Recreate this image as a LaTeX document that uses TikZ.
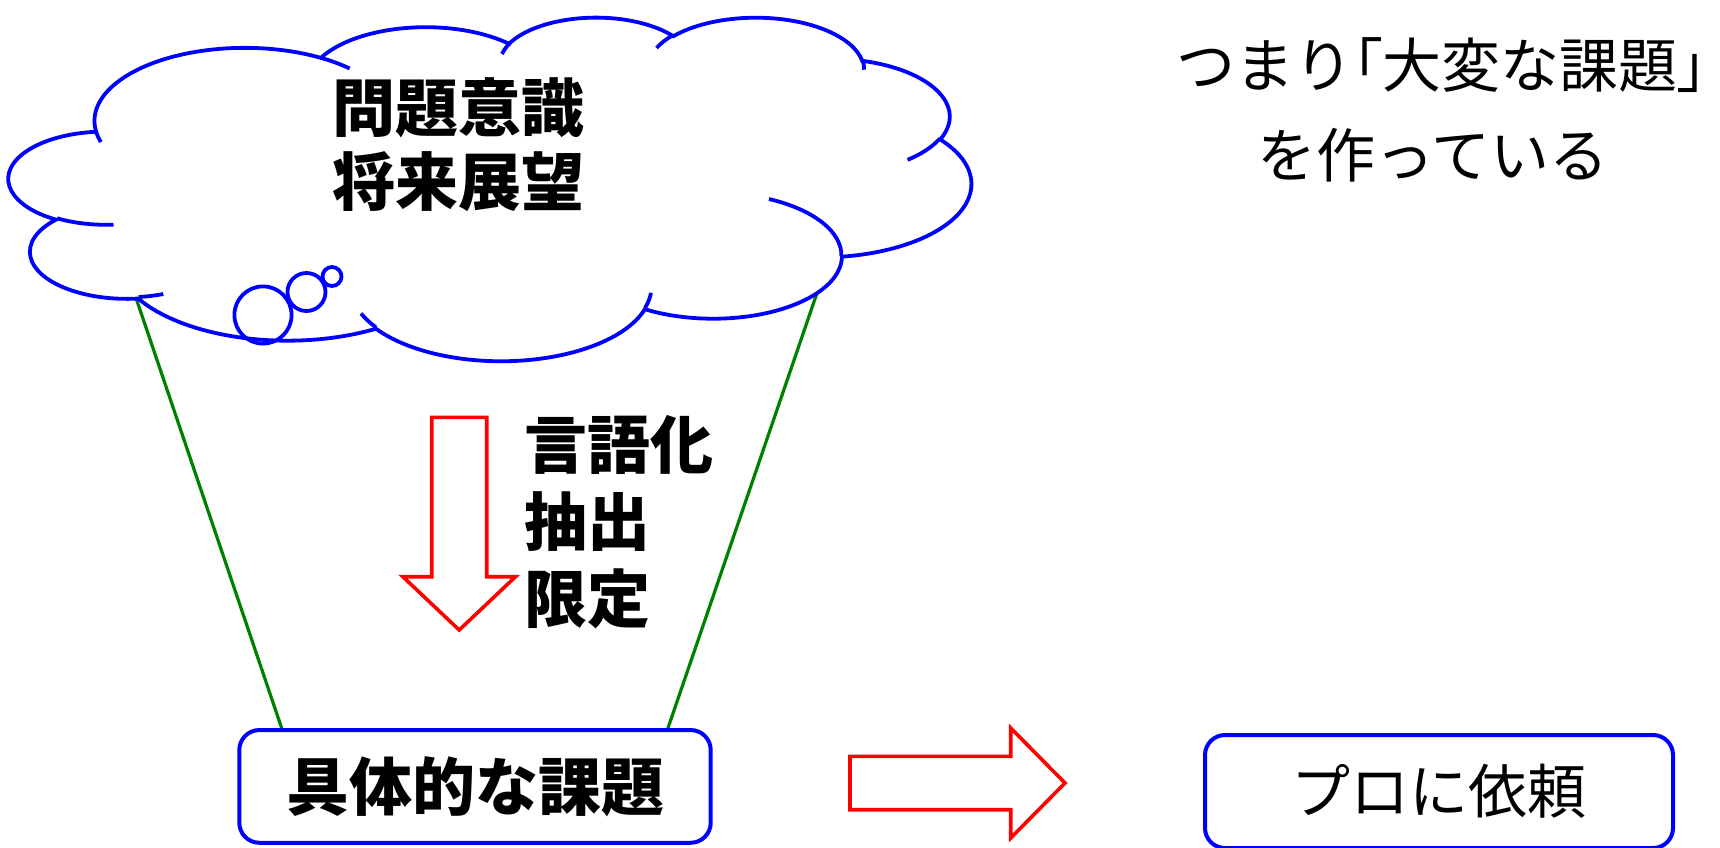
\documentclass[tikz,border=0pt]{standalone}
\usepackage{fontspec}
\newfontfamily\jp{Noto Sans CJK JP}
\newfontfamily\jpp[RawFeature=+palt]{Noto Sans CJK JP}
\definecolor{cblue}{RGB}{0,0,255}
\definecolor{cgreen}{RGB}{0,128,0}
\newcommand\cloudang[5]{%
  \pgfmathsetmacro\clTmpS{atan2((#2)*sin(#4),(#3)*cos(#4))}%
  \pgfmathsetmacro\clTmpE{atan2((#2)*sin((#4)+(#5)),(#3)*cos((#4)+(#5)))}%
  \pgfmathsetmacro\clTmpD{\clTmpE-\clTmpS}%
  \pgfmathsetmacro\clTmpD{\clTmpD+((#5)>0)*(\clTmpD<0)*360-((#5)<0)*(\clTmpD>0)*360}%
  \expandafter\xdef\csname cl#1s\endcsname{\clTmpS}%
  \expandafter\xdef\csname cl#1d\endcsname{\clTmpD}%
}
\begin{document}
\begin{tikzpicture}[x=1pt,y=-1pt,
  cloudline/.style={draw=cblue, line width=3.8pt},
  boxstyle/.style={draw=cblue, line width=4pt, rounded corners=20pt, fill=white, inner sep=0pt},
  blockarrow/.style={draw=red, line width=3.6pt, fill=white, line join=miter},
  greenline/.style={draw=cgreen, line width=3.2pt},
  boldtext/.style={font=\jp\bfseries\fontsize{63}{77}\selectfont, inner sep=0pt},
  cloudtext/.style={font=\jp\bfseries\fontsize{63}{74}\selectfont, inner sep=0pt},
  regtext/.style={font=\jp\fontsize{59}{70}\selectfont, inner sep=0pt},
  sumtext/.style={font=\jp\fontsize{59}{70}\selectfont, inner sep=0pt}]
\useasboundingbox (0,0) rectangle (1720,847);
\fill[white] (0,0) rectangle (1720,847);
% arc angles (main outline)
\cloudang{A}{67.53}{91.90}{-190.4875}{123.7805}
\cloudang{B}{53.33}{72.67}{-144.1024}{89.9452}
\cloudang{C}{43.65}{59.45}{-145.8079}{99.7230}
\cloudang{D}{48.57}{65.95}{-130.9861}{117.2417}
\cloudang{E}{53.33}{72.73}{-78.7089}{109.0269}
\cloudang{F}{67.75}{92.20}{-46.2673}{130.2690}
\cloudang{G}{57.85}{78.67}{0.6250}{114.0333}
\cloudang{H}{67.52}{92.15}{22.4516}{115.1726}
\cloudang{I}{77.20}{105.43}{66.2426}{75.7110}
\cloudang{J}{43.60}{59.18}{-274.9421}{146.7356}
\cloudang{K}{43.45}{59.45}{-246.8285}{152.5189}
% inner arcs
\cloudang{a}{43.45}{59.45}{86.7420}{26.4295}
\cloudang{b}{43.60}{59.18}{73.6105}{11.4475}
\cloudang{c}{67.52}{92.15}{137.6242}{14.0811}
\cloudang{d}{67.52}{92.15}{6.4533}{15.9984}
\cloudang{e}{57.85}{78.67}{-70.2924}{70.9174}
\cloudang{f}{53.33}{72.73}{30.3180}{27.7515}
\cloudang{g}{48.57}{65.95}{-13.7443}{14.8589}
\cloudang{h}{48.57}{65.95}{-149.1815}{18.1954}
\cloudang{i}{43.65}{59.45}{-163.4943}{17.6864}
\cloudang{j}{67.53}{91.90}{-66.7070}{12.3194}
\cloudang{k}{67.53}{91.90}{157.6544}{11.8582}
% green lines
\coordinate (gL1) at (135,295);
\coordinate (gL2) at (282.3,730);
\coordinate (gR1) at (817,293);
\coordinate (gR2) at (667.3,730);
\draw[greenline] (gL1) -- (gL2);
\draw[greenline] (gR1) -- (gR2);
% cloud
\begin{scope}[shift={(9,16.5)}, xscale=2.22685, yscale=0.79514]
\draw[cloudline, fill=white] (39.00,143.70)
  arc[x radius=67.53, y radius=91.90, start angle=\clAs, delta angle=\clAd]
  arc[x radius=53.33, y radius=72.67, start angle=\clBs, delta angle=\clBd]
  arc[x radius=43.65, y radius=59.45, start angle=\clCs, delta angle=\clCd]
  arc[x radius=48.57, y radius=65.95, start angle=\clDs, delta angle=\clDd]
  arc[x radius=53.33, y radius=72.73, start angle=\clEs, delta angle=\clEd]
  arc[x radius=67.75, y radius=92.20, start angle=\clFs, delta angle=\clFd]
  arc[x radius=57.85, y radius=78.67, start angle=\clGs, delta angle=\clGd]
  arc[x radius=67.52, y radius=92.15, start angle=\clHs, delta angle=\clHd]
  arc[x radius=77.20, y radius=105.43, start angle=\clIs, delta angle=\clId]
  arc[x radius=43.60, y radius=59.18, start angle=\clJs, delta angle=\clJd]
  arc[x radius=43.45, y radius=59.45, start angle=\clKs, delta angle=\clKd]
  -- cycle;
\draw[cloudline]
  (46.93,261.77) arc[x radius=43.45, y radius=59.45, start angle=\clas, delta angle=\clad]
  (69.28,348.99) arc[x radius=43.60, y radius=59.18, start angle=\clbs, delta angle=\clbd]
  (164.78,390.90) arc[x radius=67.52, y radius=92.15, start angle=\clcs, delta angle=\clcd]
  (288.27,347.51) arc[x radius=67.52, y radius=92.15, start angle=\clds, delta angle=\cldd]
  (341.29,229.54) arc[x radius=57.85, y radius=78.67, start angle=\cles, delta angle=\cled]
  (417.98,153.54) arc[x radius=53.33, y radius=72.73, start angle=\clfs, delta angle=\clfd]
  (383.24,54.26) arc[x radius=48.57, y radius=65.95, start angle=\clgs, delta angle=\clgd]
  (290.78,39.52) arc[x radius=48.57, y radius=65.95, start angle=\clhs, delta angle=\clhd]
  (221.41,47.20) arc[x radius=43.65, y radius=59.45, start angle=\clis, delta angle=\clid]
  (140.00,51.92) arc[x radius=67.53, y radius=91.90, start angle=\cljs, delta angle=\cljd]
  (41.27,157.89) arc[x radius=67.53, y radius=91.90, start angle=\clks, delta angle=\clkd];
\end{scope}
% thought bubbles
\draw[cloudline] (263,315) circle[radius=28.6];
\draw[cloudline] (306.5,292) circle[radius=19];
\draw[cloudline] (332,276.5) circle[radius=9.5];
\node[cloudtext, align=center] (idea) at (458,145) {問題意識\\将来展望};
% down arrow
\draw[blockarrow] (431.7,417.3) -- (486.7,417.3) -- (486.7,576.7) -- (515.5,576.7)
  -- (459.2,630) -- (402.9,576.7) -- (431.7,576.7) -- cycle;
\node[boldtext, align=left, anchor=west] (steps) at (524,522) {言語化\\抽出\\限定};
% boxes
\node[boxstyle, boldtext, minimum width=471.4pt, minimum height=112.7pt] (task) at (475,786.4) {具体的な課題};
\draw[blockarrow] (850,756.3) -- (1010.7,756.3) -- (1010.7,728) -- (1065,783)
  -- (1010.7,838) -- (1010.7,809.7) -- (850,809.7) -- cycle;
\node[boxstyle, regtext, minimum width=468pt, minimum height=113pt] (pro) at (1439,791.5) {プロに依頼};
% summary text
\node[sumtext, anchor=west] (sum1) at (1176,65) {つまり{\jpp 「}大変な課題{\jpp 」}};
\node[sumtext, anchor=west] (sum2) at (1257,155) {を作っている};
\end{tikzpicture}
\end{document}
